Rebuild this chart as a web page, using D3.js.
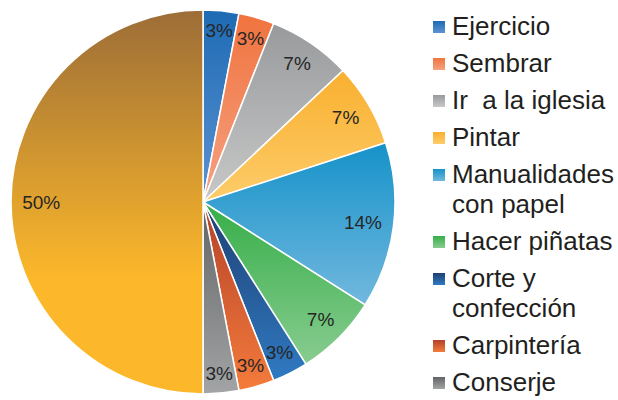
<!DOCTYPE html>
<html>
<head>
<meta charset="utf-8">
<script src="https://cdn.jsdelivr.net/npm/d3@7"></script>
<style>
  body { margin: 0; background: #fff; }
  svg { display: block; font-family: "Liberation Sans", Arial, sans-serif; }
</style>
</head>
<body>
<div id="chart"></div>
<script>
const categories = ["Ejercicio", "Sembrar", "Ir  a la iglesia", "Pintar", "Manualidades con papel",
  "Hacer piñatas", "Corte y confección", "Carpintería", "Conserje", "Otros"];
const values = [3, 3, 7, 7, 14, 7, 3, 3, 3, 50];
const labels = ["3%", "3%", "7%", "7%", "14%", "7%", "3%", "3%", "3%", "50%"];

// gradient colours per slice: top -> bottom
const topColors = ["#1d6bb4", "#f0733e", "#989a9c", "#f9b02f", "#1592c9", "#36ae48", "#1f3f72", "#b2412a", "#616365", "#9c6d37"];
const bottomColors = ["#5d92d2", "#f5a283", "#c8c8c8", "#fdcc6a", "#72b8de", "#88cc90", "#2f7ac2", "#f57b3b", "#a2a4a6", "#fcb82a"];

const width = 618;
const height = 400;
const cx = 203, cy = 202, radius = 192;

const svg = d3.select("#chart").append("svg")
  .attr("width", width)
  .attr("height", height);

const defs = svg.append("defs");
categories.forEach((c, i) => {
  const g = defs.append("linearGradient")
    .attr("id", "grad" + i)
    .attr("x1", 0).attr("y1", 0).attr("x2", 0).attr("y2", 1);
  g.append("stop").attr("offset", 0).attr("stop-color", topColors[i]);
  // the big slice reaches full colour before the bottom
  g.append("stop").attr("offset", i === 9 ? 0.7 : 1).attr("stop-color", bottomColors[i]);
  if (i === 9) g.append("stop").attr("offset", 1).attr("stop-color", bottomColors[i]);
});

const pie = d3.pie().sort(null).value((d) => d);
const arcs = pie(values);
const arc = d3.arc().innerRadius(0).outerRadius(radius);

const g = svg.append("g").attr("transform", `translate(${cx},${cy})`);

g.selectAll("path")
  .data(arcs)
  .enter()
  .append("path")
  .attr("d", arc)
  .attr("fill", (d, i) => `url(#grad${i})`)
  .attr("stroke", "#fff")
  .attr("stroke-width", 1.5)
  .attr("stroke-linejoin", "round");

// data labels: inside end, box corner touching an inner circle
const innerR = 181;
g.selectAll(".lbl")
  .data(arcs)
  .enter()
  .append("text")
  .attr("class", "lbl")
  .attr("font-size", 19)
  .attr("fill", "#262626")
  .attr("text-anchor", "middle")
  .attr("dy", "0.35em")
  .text((d, i) => labels[i])
  .each(function (d) {
    const t = d3.select(this);
    const w = this.getComputedTextLength();
    const h = 14;
    const a = (d.startAngle + d.endAngle) / 2;
    const s = Math.abs(Math.sin(a)), c = Math.abs(Math.cos(a));
    const b = s * w + c * h;
    const k = (w * w + h * h) / 4 - innerR * innerR;
    const r = (-b + Math.sqrt(b * b - 4 * k)) / 2;
    t.attr("x", Math.sin(a) * r).attr("y", -Math.cos(a) * r);
  });

// legend
const legX = 433;
const legY0 = 35;
const rowStep = 37;
const lineStep = 30;
const maxW = width - 452 - 2;

const legend = svg.append("g");
let extraLines = 0;
categories.forEach((name, i) => {
  const y = legY0 + i * rowStep + extraLines * lineStep;
  if (y > height) return;
  const item = legend.append("g");
  item.append("rect")
    .attr("x", legX).attr("y", y - 14)
    .attr("width", 12).attr("height", 12)
    .attr("fill", `url(#grad${i})`);
  const text = item.append("text")
    .attr("x", legX + 19).attr("y", y)
    .attr("font-size", 26)
    .attr("fill", "#231f20")
    .style("white-space", "pre");
  // simple word wrap
  const words = name.split(" ");
  let line = [];
  let tspan = text.append("tspan").attr("x", legX + 19).attr("y", y);
  let lines = 1;
  words.forEach((w) => {
    line.push(w);
    tspan.text(line.join(" "));
    if (tspan.node().getComputedTextLength() > maxW && line.length > 1) {
      line.pop();
      tspan.text(line.join(" "));
      line = [w];
      tspan = text.append("tspan").attr("x", legX + 19).attr("y", y + lines * lineStep).text(w);
      lines++;
    }
  });
  extraLines += lines - 1;
  if (y + (lines - 1) * lineStep > height) item.remove();
});
</script>
</body>
</html>
